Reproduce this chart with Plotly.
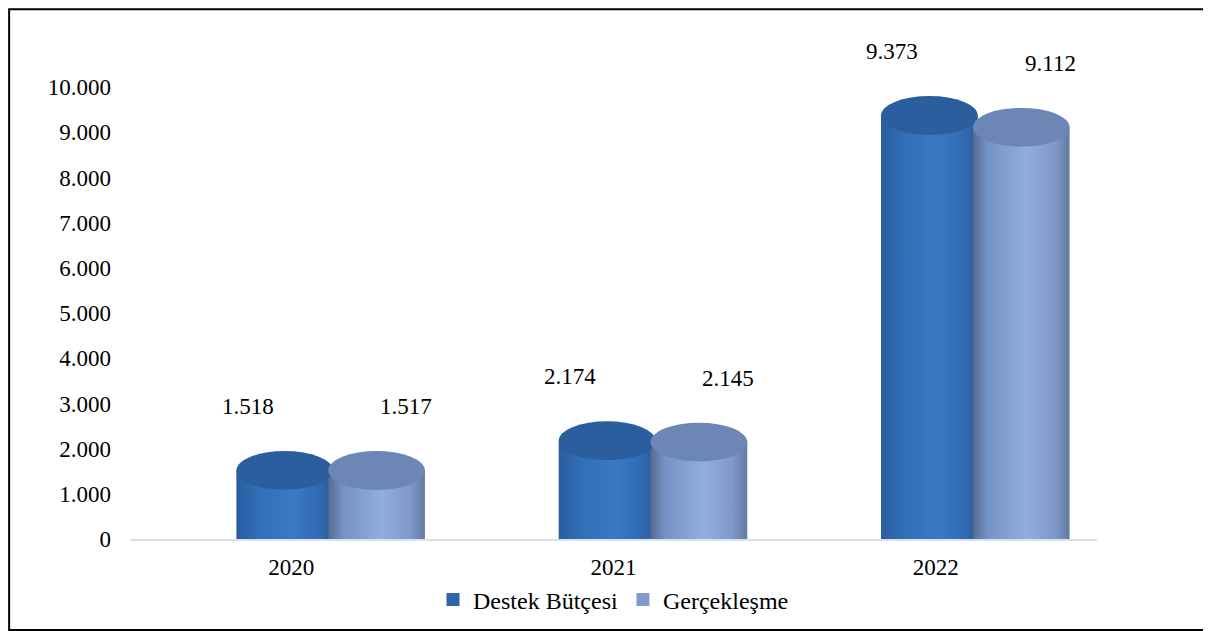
import plotly.graph_objects as go

years = ["2020", "2021", "2022"]
destek = [1518, 2174, 9373]
gercek = [1517, 2145, 9112]
destek_labels = ["1.518", "2.174", "9.373"]
gercek_labels = ["1.517", "2.145", "9.112"]
tick_vals = [0, 1000, 2000, 3000, 4000, 5000, 6000, 7000, 8000, 9000, 10000]
tick_text = ["0", "1.000", "2.000", "3.000", "4.000", "5.000", "6.000", "7.000", "8.000", "9.000", "10.000"]

font = "Liberation Serif"
bar_w = 0.30
cap = 430  # half height of the cylinder top, in axis units

destek_grad = [[0, "#2A5D9F"], [0.25, "#3270B8"], [0.6, "#3A79C4"], [0.9, "#2F67AE"], [1, "#2A5894"]]
gercek_grad = [[0, "#566B90"], [0.15, "#7592C4"], [0.55, "#92AEE0"], [0.85, "#7E98C8"], [1, "#637AA3"]]

# (values, labels, name, bar offset, gradient, legend colour, top colour, label xshift)
series = [
    (destek, destek_labels, "Destek Bütçesi", -0.17, destek_grad, "#2F66AA", "#2B5E9F", -37),
    (gercek, gercek_labels, "Gerçekleşme", 0.115, gercek_grad, "#7F9BCD", "#6C87B5", 29),
]

fig = go.Figure()
for vals, labels, name, off, grad, col, top, xs in series:
    # legend entry: a small square like the original
    fig.add_trace(go.Scatter(x=[None], y=[None], mode="markers", name=name,
                             legendgroup=name,
                             marker=dict(symbol="square", size=13, color=col)))
    for i, (v, lab) in enumerate(zip(vals, labels)):
        x0 = i + off
        x1 = x0 + bar_w
        fig.add_trace(go.Scatter(
            x=[x0, x1, x1, x0, x0], y=[0, 0, v, v, 0],
            mode="lines", line=dict(width=0), fill="toself",
            fillcolor=col, fillgradient=dict(type="horizontal", colorscale=grad),
            name=name, legendgroup=name, showlegend=False,
            hovertemplate=f"{years[i]}<br>{name}: {lab}<extra></extra>",
        ))
        fig.add_shape(type="circle", xref="x", yref="y",
                      x0=x0, x1=x1, y0=v - cap, y1=v + cap,
                      fillcolor=top, line=dict(width=0), layer="above")
        fig.add_annotation(x=(x0 + x1) / 2, y=v, text=lab, showarrow=False,
                           xshift=xs, yshift=64, font=dict(size=23, color="#000"))

# outer frame
fig.add_shape(type="rect", xref="paper", yref="paper",
              x0=-0.125, x1=1.112, y0=-0.183, y1=1.066,
              line=dict(color="black", width=2), fillcolor="rgba(0,0,0,0)")

fig.update_layout(
    width=1203, height=623,
    margin=dict(l=122, r=114, t=34, b=92, autoexpand=False),
    paper_bgcolor="white", plot_bgcolor="white",
    font=dict(family=font, size=23, color="#000"),
    showlegend=True,
    legend=dict(orientation="h", x=0.5, xanchor="center",
                yref="container", y=0.05, yanchor="middle",
                bgcolor="rgba(0,0,0,0)", itemwidth=30, traceorder="normal",
                font=dict(size=24)),
    xaxis=dict(range=[-0.5, 2.5], tickvals=[0, 1, 2], ticktext=years,
               showgrid=False, zeroline=False,
               showline=True, linecolor="#D9E1EE", linewidth=2,
               tickfont=dict(size=23), ticks="", ticklabelstandoff=6),
    yaxis=dict(range=[0, 11000], tickvals=tick_vals, ticktext=tick_text,
               showgrid=False, zeroline=False, showline=False,
               tickfont=dict(size=23), ticklabelstandoff=18),
)

fig.write_html("out.html")
